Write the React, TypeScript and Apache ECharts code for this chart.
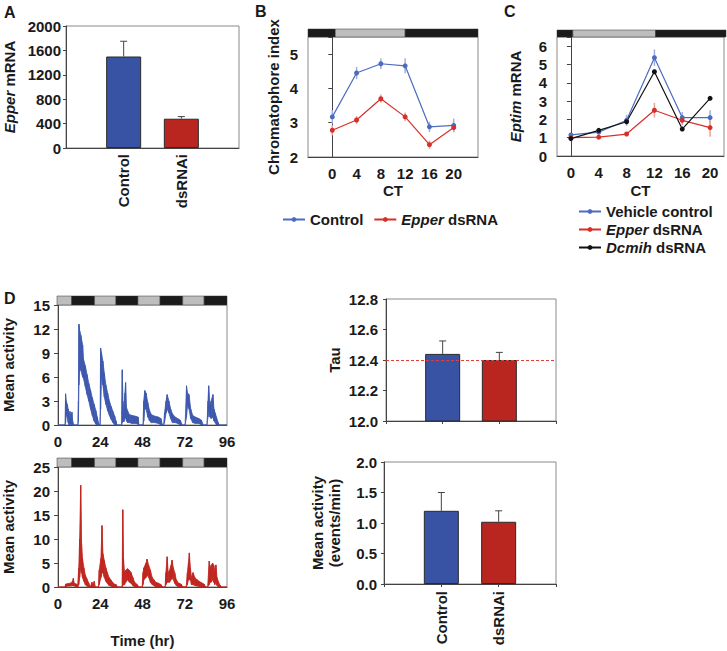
import React, { useEffect, useRef } from 'react';
import * as echarts from 'echarts';

// ---------------- data ----------------
const barCategories = ['Control', 'dsRNAi'];
const epperMrna = [1500, 480];
const epperMrnaErr = [250, 35];

const ctTimes = [0, 4, 8, 12, 16, 20];
const chromControl = [3.17, 4.45, 4.72, 4.66, 2.88, 2.92];
const chromControlErr = [0.2, 0.18, 0.15, 0.22, 0.15, 0.2];
const chromEpper = [2.78, 3.08, 3.7, 3.17, 2.36, 2.86];
const chromEpperErr = [0.15, 0.12, 0.12, 0.13, 0.12, 0.12];

const eptimVehicle = [1.15, 1.3, 1.95, 5.37, 2.1, 2.1];
const eptimVehicleErr = [0.1, 0.1, 0.3, 0.45, 0.3, 0.4];
const eptimEpper = [1.0, 1.03, 1.2, 2.5, 1.95, 1.55];
const eptimEpperErr = [0.1, 0.08, 0.08, 0.4, 0.25, 0.5];
const eptimDcmih = [0.95, 1.4, 1.87, 4.6, 1.47, 3.15];

const tau = [12.44, 12.4];
const tauErr = [0.085, 0.05];
const tauReference = 12.4;

const meanActivity = [1.2, 1.02];
const meanActivityErr = [0.3, 0.18];

// phase strips: [start, end, dark(1)/light(0)]
const phasesB = [[-4, 0.5, 1], [0.5, 12, 0], [12, 24, 1]];
const phasesC = [[-2, 0.25, 1], [0.25, 12, 0], [12, 22, 1]];
const phasesD = [[0, 8.3, 0], [8.3, 21.2, 1], [21.2, 33.3, 0], [33.3, 45.7, 1], [45.7, 58.2, 0], [58.2, 71, 1], [71, 83.1, 0], [83.1, 96, 1]];

// activity traces: [time (hr), lower edge, upper edge]
const controlActivity = [
  [0, 0, 0], [4.0, 0, 0], [4.3, 0.3, 3.9], [4.7, 1.5, 3.0], [5.2, 1.0, 2.6], [5.8, 0.3, 2.0], [6.3, 0, 1.0],
  [6.8, 0.2, 1.7], [7.4, 0, 0.8], [7.9, 0.2, 1.6], [8.4, 0, 0.4], [8.8, 0, 0], [11.3, 0, 0], [11.6, 0.5, 3.0],
  [11.9, 5.0, 12.6], [12.3, 7.5, 11.8], [13.0, 6.8, 11.2], [14.0, 6.0, 10.0], [14.5, 5.8, 8.2], [15.5, 4.8, 7.4],
  [16.5, 3.8, 6.3], [17.5, 3.0, 5.2], [18.5, 2.0, 4.3], [19.5, 1.2, 3.4], [20.5, 0.5, 2.6], [21.5, 0.1, 1.8],
  [22.3, 0, 1.0], [23.0, 0, 0.3], [23.4, 0, 0], [23.9, 0, 0], [24.2, 2.0, 9.6], [24.7, 6.0, 9.0], [25.5, 5.0, 8.0],
  [26.3, 3.5, 6.5], [27.2, 2.6, 5.0], [28.2, 1.8, 4.0], [29.2, 1.2, 3.0], [30.2, 0.7, 2.3], [31.2, 0.3, 1.7],
  [32.2, 0, 1.1], [33.0, 0, 0.5], [33.5, 0, 0], [36.1, 0, 0], [36.5, 0.3, 6.9], [36.9, 0.5, 3.0], [37.4, 0.4, 1.5],
  [38.0, 0.8, 4.0], [38.4, 1.0, 5.3], [38.9, 0.5, 2.2], [39.5, 0.3, 1.8], [40.5, 0.3, 1.3], [42.0, 0.2, 1.2],
  [44.0, 0.2, 1.1], [45.5, 0.1, 1.0], [46.0, 0, 0], [48.3, 0, 0], [48.7, 0.5, 3.0], [49.3, 2.0, 4.3], [50.0, 2.0, 4.0],
  [51.0, 1.0, 2.8], [52.0, 0.5, 1.8], [53.0, 0.3, 1.3], [55.0, 0.3, 1.1], [57.0, 0.2, 1.0], [58.5, 0, 0.8],
  [59.3, 0, 0], [60.0, 0, 0], [60.5, 0.3, 1.5], [61.4, 1.5, 3.0], [62.0, 2.0, 3.8], [63.0, 1.5, 3.0], [64.0, 0.8, 2.0],
  [65.0, 0.3, 1.4], [66.5, 0.3, 1.0], [68.0, 0.2, 0.8], [69.5, 0, 0.6], [70.6, 0, 0], [72.2, 0, 0], [73.0, 1.0, 4.9],
  [73.6, 2.5, 4.0], [74.4, 2.0, 3.8], [75.4, 0.8, 2.0], [76.5, 0.3, 1.2], [78.0, 0.2, 1.0], [80.0, 0.2, 0.8],
  [81.5, 0, 0.6], [82.5, 0, 0], [84.6, 0, 0], [85.2, 1.0, 3.0], [85.6, 2.0, 4.9], [86.3, 1.0, 2.5], [87.0, 0.8, 3.0],
  [88.0, 1.0, 3.8], [88.6, 0.5, 2.0], [89.3, 0.3, 1.5], [90.0, 0, 1.0], [91.0, 0, 0.3], [91.5, 0, 0], [96, 0, 0],
];

const dsrnaActivity = [
  [0, 0, 0], [4.0, 0, 0], [4.3, 0, 0.6], [5.5, 0.2, 0.7], [7.0, 0.2, 0.8], [8.3, 0.3, 1.2], [8.7, 0.3, 1.8],
  [9.2, 0.2, 0.8], [10.5, 0, 0.6], [11.2, 0, 0.5], [11.8, 0.5, 4.0], [12.3, 2.0, 10.0], [12.9, 4.0, 21.2],
  [13.4, 3.0, 9.0], [13.9, 2.0, 6.0], [14.7, 1.2, 4.0], [15.5, 0.5, 2.5], [16.3, 0.2, 1.8], [17.5, 0, 0.8],
  [18.3, 0, 0], [19.3, 0, 1.0], [19.8, 0, 0.3], [20.6, 0, 1.2], [21.2, 0, 0], [23.0, 0, 0], [23.4, 0.5, 3.5],
  [24.4, 2.0, 6.0], [25.0, 3.0, 12.8], [25.5, 3.0, 7.0], [26.3, 2.0, 5.5], [27.2, 1.2, 4.0], [28.0, 0.8, 3.0],
  [29.0, 0.3, 2.0], [30.0, 0.2, 1.5], [31.0, 0, 1.0], [32.0, 0, 0.6], [33.0, 0, 0.5], [33.8, 0, 0], [36.4, 0, 0],
  [36.8, 0.3, 16.1], [37.2, 0.5, 6.0], [37.8, 0.5, 3.0], [38.5, 1.0, 3.5], [39.5, 1.5, 3.8], [40.5, 1.0, 3.5],
  [41.5, 0.8, 3.0], [42.5, 0.3, 2.0], [43.5, 0, 1.0], [45.0, 0, 0.5], [46.0, 0, 0], [47.8, 0, 0], [48.3, 0.5, 3.0],
  [48.8, 1.5, 4.0], [50.0, 2.0, 5.0], [50.6, 2.5, 5.8], [51.5, 2.0, 4.5], [52.5, 1.0, 3.5], [53.5, 0.5, 2.0],
  [54.5, 0.3, 1.5], [55.5, 0, 1.0], [57.0, 0, 0.8], [58.5, 0, 0.5], [59.5, 0, 0], [60.8, 0, 0], [61.3, 0.5, 3.0],
  [62.0, 1.0, 6.3], [62.6, 1.0, 3.0], [63.4, 1.0, 3.5], [64.2, 1.5, 4.5], [64.8, 2.0, 5.6], [65.5, 1.5, 4.0],
  [66.3, 0.8, 3.0], [67.2, 0.3, 1.5], [68.5, 0, 0.8], [70.0, 0, 0.6], [71.0, 0, 0], [72.8, 0, 0], [73.5, 0.5, 3.0],
  [74.1, 1.5, 5.0], [74.6, 1.5, 7.1], [75.2, 1.5, 4.0], [75.8, 0.5, 2.0], [76.7, 0.5, 3.0], [77.7, 0.3, 2.0],
  [79.0, 0.2, 1.5], [81.0, 0, 1.0], [83.0, 0, 0.6], [84.0, 0, 0], [85.0, 0, 0], [85.9, 0.5, 5.4], [86.4, 1.0, 4.0],
  [87.0, 1.0, 4.5], [87.8, 1.5, 5.0], [88.5, 1.0, 4.5], [89.1, 0.5, 3.0], [89.7, 1.0, 4.6], [90.3, 0.3, 2.0],
  [91.2, 0, 1.0], [92.0, 0, 0.4], [93.0, 0, 0], [96, 0, 0],
];

// ---------------- styling ----------------
const FONT = 'Liberation Sans, Arial, Helvetica, sans-serif';
const INK = '#1a1a1a';
const AXIS = '#444';
const FRAME = '#8a8a8a';
const BLUE_BAR = '#3953a4';
const RED_BAR = '#b8261f';
const BLUE_LINE = '#4d6cc0';
const RED_LINE = '#d7302a';
const BLUE_ERR = '#9cb0e2';
const RED_ERR = '#e8a29d';
const BLUE_TRACE = '#3d58ad';
const RED_TRACE = '#c0261f';

const txt = { fontFamily: FONT, fontWeight: 'bold' as const, fontSize: 15, color: INK };
const richI = { i: { fontFamily: FONT, fontWeight: 'bold', fontStyle: 'italic', fontSize: 15, color: INK } };

function stripItem(params: any, api: any) {
  const s = api.coord([api.value(0), 1]);
  const e = api.coord([api.value(1), 0]);
  return {
    type: 'rect',
    shape: { x: s[0], y: s[1], width: e[0] - s[0], height: e[1] - s[1] },
    style: { fill: api.value(2) === 1 ? '#1b1b1b' : '#bdbdbd', stroke: '#333', lineWidth: 0.5 },
  };
}

function errUp(params: any, api: any) {
  const x = api.value(0), y = api.value(1), e = api.value(2);
  const a = api.coord([x, y]);
  const b = api.coord([x, y + e]);
  const st = { stroke: '#444', lineWidth: 1 };
  return {
    type: 'group',
    children: [
      { type: 'line', shape: { x1: a[0], y1: a[1], x2: b[0], y2: b[1] }, style: st },
      { type: 'line', shape: { x1: b[0] - 3.5, y1: b[1], x2: b[0] + 3.5, y2: b[1] }, style: st },
    ],
  };
}

function errBoth(color: string) {
  return (params: any, api: any) => {
    const x = api.value(0), y = api.value(1), e = api.value(2);
    const a = api.coord([x, y - e]);
    const b = api.coord([x, y + e]);
    return { type: 'line', shape: { x1: a[0], y1: a[1], x2: b[0], y2: b[1] }, style: { stroke: color, lineWidth: 1.5 } };
  };
}

// band segment between two consecutive knots: [t0, lo0, hi0, t1, lo1, hi1]
function bandItem(color: string) {
  return (params: any, api: any) => {
    const t0 = api.value(0), lo0 = api.value(1), hi0 = api.value(2);
    const t1 = api.value(3), lo1 = api.value(4), hi1 = api.value(5);
    const pts = [api.coord([t0, lo0]), api.coord([t1, lo1]), api.coord([t1, hi1]), api.coord([t0, hi0])];
    return {
      type: 'polygon',
      shape: { points: pts },
      style: { fill: color, stroke: color, lineWidth: 0.8, lineJoin: 'round' },
    };
  };
}

function buildOption() {
  const grids = [
    { left: 66, top: 26, width: 173, height: 122, show: true },   // 0 A
    { left: 308, top: 37, width: 170, height: 120, show: true },  // 1 B
    { left: 557, top: 37, width: 169, height: 119, show: true },  // 2 C
    { left: 57, top: 305, width: 170, height: 120, show: true },  // 3 D1
    { left: 57, top: 467, width: 170, height: 120, show: true },  // 4 D2
    { left: 386, top: 299, width: 170, height: 122, show: true }, // 5 Tau
    { left: 384, top: 462, width: 172, height: 122, show: true }, // 6 mean activity
    { left: 308, top: 29, width: 170, height: 8, show: false },   // 7 strip B
    { left: 557, top: 30, width: 169, height: 7, show: false },   // 8 strip C
    { left: 57, top: 296, width: 170, height: 9, show: false },   // 9 strip D1
    { left: 57, top: 458, width: 170, height: 9, show: false },   // 10 strip D2
  ].map((g) => ({ ...g, borderColor: FRAME, borderWidth: 1, containLabel: false }));

  const baseLine = { show: true, lineStyle: { color: AXIS, width: 1 } };
  const noSplit = { show: false };
  const hidden = { show: false };
  const plain = (v: number) => String(v);

  const barLabel = (v: number) => (v === 1 ? barCategories[0] : v === 2 ? barCategories[1] : '');

  const xAxis: any[] = [
    { gridIndex: 0, type: 'value', min: 0, max: 3, interval: 1, axisLine: baseLine, axisTick: hidden, splitLine: noSplit,
      axisLabel: { ...txt, rotate: 90, margin: 6, formatter: barLabel } },
    { gridIndex: 1, type: 'value', min: -4, max: 24, interval: 4, axisLine: baseLine, axisTick: hidden, splitLine: noSplit,
      axisLabel: { ...txt, margin: 9, formatter: (v: number) => (v < 0 || v > 20 ? '' : String(v)) },
      name: 'CT', nameLocation: 'middle', nameGap: 26, nameTextStyle: txt },
    { gridIndex: 2, type: 'value', min: -2, max: 22, interval: 2, axisLine: baseLine, axisTick: hidden, splitLine: noSplit,
      axisLabel: { ...txt, margin: 9, formatter: (v: number) => (v >= 0 && v <= 20 && v % 4 === 0 ? String(v) : '') },
      name: 'CT', nameLocation: 'middle', nameGap: 27, nameTextStyle: txt },
    { gridIndex: 3, type: 'value', min: 0, max: 96, interval: 24, axisLine: baseLine, axisTick: hidden, splitLine: noSplit,
      axisLabel: { ...txt, margin: 9, formatter: plain } },
    { gridIndex: 4, type: 'value', min: 0, max: 96, interval: 24, axisLine: baseLine, axisTick: hidden, splitLine: noSplit,
      axisLabel: { ...txt, margin: 9, formatter: plain }, name: 'Time (hr)', nameLocation: 'middle', nameGap: 46, nameTextStyle: txt },
    { gridIndex: 5, type: 'value', min: 0, max: 3, interval: 1, axisLine: baseLine,
      axisTick: { show: true, length: 3, lineStyle: { color: AXIS } }, splitLine: noSplit, axisLabel: hidden },
    { gridIndex: 6, type: 'value', min: 0, max: 3, interval: 1, axisLine: baseLine,
      axisTick: { show: true, length: 3, lineStyle: { color: AXIS } }, splitLine: noSplit,
      axisLabel: { ...txt, rotate: 90, margin: 7, formatter: barLabel } },
    { gridIndex: 7, type: 'value', min: -4, max: 24, show: false },
    { gridIndex: 8, type: 'value', min: -2, max: 22, show: false },
    { gridIndex: 9, type: 'value', min: 0, max: 96, show: false },
    { gridIndex: 10, type: 'value', min: 0, max: 96, show: false },
  ];

  const yTick = (len: number) => ({ show: true, length: len, lineStyle: { color: AXIS } });
  const yAxis: any[] = [
    { gridIndex: 0, type: 'value', min: 0, max: 2000, interval: 400, axisLine: baseLine, axisTick: yTick(3), splitLine: noSplit,
      axisLabel: { ...txt, margin: 5, formatter: plain }, name: '{i|Epper} mRNA', nameLocation: 'middle', nameGap: 49, nameRotate: 90,
      nameTextStyle: { ...txt, rich: richI } },
    { gridIndex: 1, type: 'value', min: 2, max: 5.5, interval: 1, axisLine: baseLine, axisTick: yTick(4), splitLine: noSplit,
      axisLabel: { ...txt, margin: 10, formatter: (v: number) => (v > 5 ? '' : String(v)) },
      name: 'Chromatophore index', nameLocation: 'middle', nameGap: 27, nameRotate: 90, nameTextStyle: txt },
    { gridIndex: 2, type: 'value', min: 0, max: 6.5, interval: 1, axisLine: baseLine, axisTick: yTick(4), splitLine: noSplit,
      axisLabel: { ...txt, margin: 10, formatter: (v: number) => (v > 6 ? '' : String(v)) },
      name: '{i|Eptim} mRNA', nameLocation: 'middle', nameGap: 34, nameRotate: 90, nameTextStyle: { ...txt, rich: richI } },
    { gridIndex: 3, type: 'value', min: 0, max: 15, interval: 3, axisLine: baseLine, axisTick: yTick(4), splitLine: noSplit,
      axisLabel: { ...txt, margin: 8, formatter: plain }, name: 'Mean activity', nameLocation: 'middle', nameGap: 42, nameRotate: 90, nameTextStyle: txt },
    { gridIndex: 4, type: 'value', min: 0, max: 25, interval: 5, axisLine: baseLine, axisTick: yTick(4), splitLine: noSplit,
      axisLabel: { ...txt, margin: 8, formatter: plain }, name: 'Mean activity', nameLocation: 'middle', nameGap: 42, nameRotate: 90, nameTextStyle: txt },
    { gridIndex: 5, type: 'value', min: 12, max: 12.8, interval: 0.2, axisLine: baseLine, axisTick: yTick(3), splitLine: noSplit,
      axisLabel: { ...txt, margin: 8, formatter: (v: number) => v.toFixed(1) },
      name: 'Tau', nameLocation: 'middle', nameGap: 44, nameRotate: 90, nameTextStyle: txt },
    { gridIndex: 6, type: 'value', min: 0, max: 2, interval: 0.5, axisLine: baseLine, axisTick: yTick(3), splitLine: noSplit,
      axisLabel: { ...txt, margin: 7, formatter: (v: number) => v.toFixed(1) },
      name: 'Mean activity\n(events/min)', nameLocation: 'middle', nameGap: 41, nameRotate: 90,
      nameTextStyle: { ...txt, lineHeight: 17 } },
    { gridIndex: 7, type: 'value', min: 0, max: 1, show: false },
    { gridIndex: 8, type: 'value', min: 0, max: 1, show: false },
    { gridIndex: 9, type: 'value', min: 0, max: 1, show: false },
    { gridIndex: 10, type: 'value', min: 0, max: 1, show: false },
  ];

  const barColors = [BLUE_BAR, RED_BAR];
  const barData = (vals: number[]) =>
    vals.map((v, i) => ({ value: [i + 1, v], itemStyle: { color: barColors[i], borderColor: '#2a2a2a', borderWidth: 1 } }));
  const errData = (vals: number[], errs: number[], xs?: number[]) =>
    vals.map((v, i) => [xs ? xs[i] : i + 1, v, errs[i]]);
  const pts = (vals: number[]) => vals.map((v, i) => [ctTimes[i], v]);

  const lineSeries = (name: string, g: number, vals: number[], color: string) => ({
    name, type: 'line', xAxisIndex: g, yAxisIndex: g, data: pts(vals), symbol: 'circle', symbolSize: 5,
    itemStyle: { color }, lineStyle: { color, width: 1.2 }, z: 3,
  });

  const segments = (rows: number[][]) => rows.slice(0, -1).map((r, i) => [...r, ...rows[i + 1]]);
  const traceSeries = (g: number, rows: number[][], color: string) => ({
    type: 'custom', xAxisIndex: g, yAxisIndex: g, renderItem: bandItem(color), data: segments(rows),
    encode: { x: [0, 3], y: [1, 2, 4, 5] }, silent: true, z: 2,
  });

  const strip = (g: number, phases: number[][]) => ({
    type: 'custom', xAxisIndex: g, yAxisIndex: g, renderItem: stripItem, data: phases, encode: { x: [0, 1] }, silent: true,
  });

  const series: any[] = [
    // A
    { type: 'bar', xAxisIndex: 0, yAxisIndex: 0, barWidth: 35, data: barData(epperMrna), z: 2 },
    { type: 'custom', xAxisIndex: 0, yAxisIndex: 0, renderItem: errUp, data: errData(epperMrna, epperMrnaErr), encode: { x: 0, y: 1 }, z: 3 },
    // B
    { type: 'custom', xAxisIndex: 1, yAxisIndex: 1, renderItem: errBoth(BLUE_ERR), data: errData(chromControl, chromControlErr, ctTimes), encode: { x: 0, y: 1 }, z: 1 },
    { type: 'custom', xAxisIndex: 1, yAxisIndex: 1, renderItem: errBoth(RED_ERR), data: errData(chromEpper, chromEpperErr, ctTimes), encode: { x: 0, y: 1 }, z: 1 },
    lineSeries('Control', 1, chromControl, BLUE_LINE),
    lineSeries('Epper dsRNA', 1, chromEpper, RED_LINE),
    // C
    { type: 'custom', xAxisIndex: 2, yAxisIndex: 2, renderItem: errBoth(BLUE_ERR), data: errData(eptimVehicle, eptimVehicleErr, ctTimes), encode: { x: 0, y: 1 }, z: 1 },
    { type: 'custom', xAxisIndex: 2, yAxisIndex: 2, renderItem: errBoth(RED_ERR), data: errData(eptimEpper, eptimEpperErr, ctTimes), encode: { x: 0, y: 1 }, z: 1 },
    lineSeries('Vehicle control', 2, eptimVehicle, BLUE_LINE),
    lineSeries('Epper dsRNA ', 2, eptimEpper, RED_LINE),
    lineSeries('Dcmih dsRNA', 2, eptimDcmih, '#111111'),
    // D traces
    traceSeries(3, controlActivity, BLUE_TRACE),
    traceSeries(4, dsrnaActivity, RED_TRACE),
    // Tau
    { type: 'bar', xAxisIndex: 5, yAxisIndex: 5, barWidth: 35, data: barData(tau), z: 2,
      markLine: { silent: true, symbol: 'none', label: { show: false },
        lineStyle: { color: '#e0403a', type: [3, 2], width: 1 }, data: [{ yAxis: tauReference }] } },
    { type: 'custom', xAxisIndex: 5, yAxisIndex: 5, renderItem: errUp, data: errData(tau, tauErr), encode: { x: 0, y: 1 }, z: 3 },
    // mean activity
    { type: 'bar', xAxisIndex: 6, yAxisIndex: 6, barWidth: 35, data: barData(meanActivity), z: 2 },
    { type: 'custom', xAxisIndex: 6, yAxisIndex: 6, renderItem: errUp, data: errData(meanActivity, meanActivityErr), encode: { x: 0, y: 1 }, z: 3 },
    // strips
    strip(7, phasesB),
    strip(8, phasesC),
    strip(9, phasesD),
    strip(10, phasesD),
  ];

  const legendFmt = (name: string) => {
    const n = name.trim();
    if (n.startsWith('Epper')) return '{i|Epper} dsRNA';
    if (n.startsWith('Dcmih')) return '{i|Dcmih} dsRNA';
    return n;
  };

  const letter = (t: string, x: number, y: number) => ({
    type: 'text', x, y, style: { text: t, font: `bold 16px ${FONT}`, fill: INK, textVerticalAlign: 'top' },
  });

  return {
    animation: false,
    backgroundColor: '#ffffff',
    grid: grids,
    xAxis,
    yAxis,
    series,
    legend: [
      { data: ['Control', 'Epper dsRNA'], orient: 'horizontal', left: 277, top: 207, itemWidth: 22, itemHeight: 6, itemGap: 10,
        formatter: legendFmt, textStyle: { ...txt, rich: richI }, selectedMode: false },
      { data: ['Vehicle control', 'Epper dsRNA ', 'Dcmih dsRNA'], orient: 'vertical', left: 573, top: 199, itemWidth: 22,
        itemHeight: 6, itemGap: 3, formatter: legendFmt, textStyle: { ...txt, rich: richI }, selectedMode: false },
    ],
    graphic: [letter('A', 4, 4), letter('B', 255, 3), letter('C', 504, 3), letter('D', 4, 290)],
  };
}

export default function App() {
  const ref = useRef<HTMLDivElement>(null);
  useEffect(() => {
    if (!ref.current) return;
    const chart = echarts.init(ref.current, undefined, { renderer: 'svg' });
    chart.setOption(buildOption() as any);
    return () => chart.dispose();
  }, []);
  return (
    <div
      ref={ref}
      style={{ position: 'absolute', left: 0, top: 0, width: 727, height: 651, background: '#ffffff' }}
    />
  );
}
